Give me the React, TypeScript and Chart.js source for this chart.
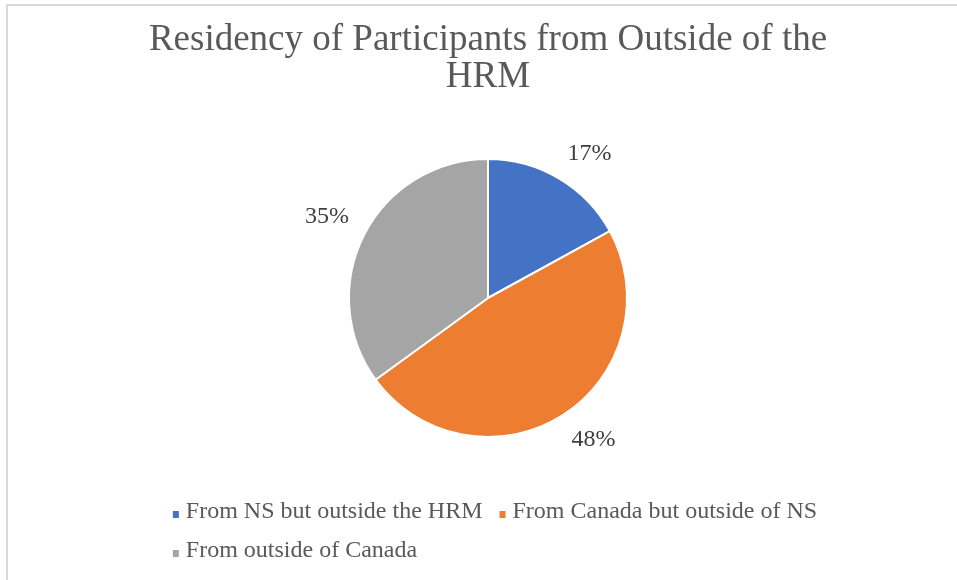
import { useEffect, useRef } from 'react';
import { Chart, registerables } from 'chart.js';

Chart.register(...registerables);

const categories = [
  'From NS but outside the HRM',
  'From Canada but outside of NS',
  'From outside of Canada',
];
const values = [17, 48, 35];
const sliceColors = ['#4472C4', '#ED7D31', '#A5A5A5'];
const titleLines = ['Residency of Participants from Outside of the', 'HRM'];

const FONT = "'Liberation Serif', 'Times New Roman', serif";

const outLabelsPlugin = {
  id: 'outLabels',
  afterDatasetsDraw(chart: any) {
    const ctx = chart.ctx;
    const meta = chart.getDatasetMeta(0);
    const data = chart.data.datasets[0].data as number[];
    const total = data.reduce((a, b) => a + b, 0);
    ctx.save();
    ctx.font = `24px ${FONT}`;
    ctx.fillStyle = '#404040';
    ctx.textAlign = 'center';
    ctx.textBaseline = 'middle';
    meta.data.forEach((arc: any, i: number) => {
      const { x, y, startAngle, endAngle, outerRadius } = arc.getProps(
        ['x', 'y', 'startAngle', 'endAngle', 'outerRadius'],
        true
      );
      const mid = (startAngle + endAngle) / 2;
      const ux = Math.cos(mid);
      const uy = Math.sin(mid);
      const text = `${Math.round((data[i] / total) * 100)}%`;
      const w = ctx.measureText(text).width;
      const d = outerRadius + 17;
      const cx = x + ux * d + Math.sign(ux) * (w / 2);
      const cy = y + uy * d + Math.sign(uy) * 10;
      ctx.fillText(text, cx, cy);
    });
    ctx.restore();
  },
};

const bottomLegendPlugin = {
  id: 'bottomLegend',
  afterDraw(chart: any) {
    const ctx = chart.ctx;
    const labels = chart.data.labels as string[];
    const colors = chart.data.datasets[0].backgroundColor as string[];
    const area = chart.chartArea;
    const box = 7;
    const textOffset = 13;
    const itemGap = 17;
    const maxRow = 700;
    const rowGap = 39;
    ctx.save();
    ctx.font = `24px ${FONT}`;
    const rows: { i: number; w: number }[][] = [[]];
    let rowW = 0;
    labels.forEach((lab, i) => {
      const w = textOffset + ctx.measureText(lab).width;
      const cur = rows[rows.length - 1];
      const needed = cur.length ? rowW + itemGap + w : w;
      if (cur.length && needed > maxRow) {
        rows.push([{ i, w }]);
        rowW = w;
      } else {
        cur.push({ i, w });
        rowW = needed;
      }
    });
    const widths = rows.map((r) => r.reduce((s, it, k) => s + it.w + (k ? itemGap : 0), 0));
    const blockW = Math.max(...widths);
    const left = (area.left + area.right) / 2 - blockW / 2 + 7;
    const firstMid = area.bottom + 71;
    ctx.textAlign = 'left';
    ctx.textBaseline = 'middle';
    rows.forEach((r, ri) => {
      let x = left;
      const ym = firstMid + ri * rowGap;
      r.forEach((it) => {
        ctx.fillStyle = colors[it.i];
        ctx.fillRect(x, ym - 1, box - 1, box);
        ctx.fillStyle = '#595959';
        ctx.fillText(labels[it.i], x + textOffset, ym);
        x += it.w + itemGap;
      });
    });
    ctx.restore();
  },
};

export default function App() {
  const canvasRef = useRef<HTMLCanvasElement | null>(null);

  useEffect(() => {
    if (!canvasRef.current) return;
    const chart = new Chart(canvasRef.current, {
      type: 'pie',
      data: {
        labels: categories,
        datasets: [
          {
            data: values,
            backgroundColor: sliceColors,
            borderColor: '#ffffff',
            borderWidth: 2,
            radius: 139,
            hoverOffset: 0,
          } as any,
        ],
      },
      options: {
        responsive: false,
        animation: false,
        events: [],
        layout: { padding: { top: 0, bottom: 141, left: 0, right: 2 } },
        plugins: {
          legend: { display: false },
          tooltip: { enabled: false },
          title: {
            display: true,
            text: titleLines,
            color: '#595959',
            font: { family: FONT, size: 37, weight: 'normal', lineHeight: 1.0 },
            padding: { top: 16, bottom: 59 },
          },
        },
      },
      plugins: [outLabelsPlugin, bottomLegendPlugin],
    });
    return () => chart.destroy();
  }, []);

  return (
    <div
      style={{
        position: 'fixed',
        left: 0,
        top: 0,
        width: 957,
        height: 580,
        overflow: 'hidden',
        background: '#ffffff',
      }}
    >
      <div
        style={{
          position: 'absolute',
          left: 6,
          top: 4,
          width: 966,
          height: 580,
          border: '2px solid #d9d9d9',
          boxSizing: 'border-box',
          background: '#ffffff',
        }}
      >
        <canvas ref={canvasRef} width={962} height={576} style={{ display: 'block' }} />
      </div>
    </div>
  );
}
